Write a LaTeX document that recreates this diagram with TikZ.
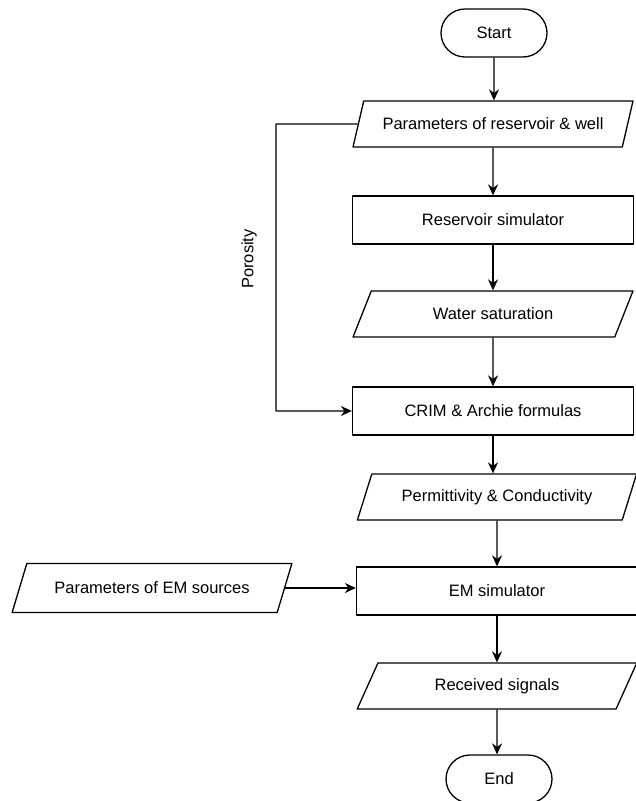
\documentclass[tikz,border=0pt]{standalone}
\usepackage{fontspec}
\setmainfont{Liberation Sans}
\usetikzlibrary{shapes.geometric,shapes.misc,arrows.meta}
\tikzset{
  term/.style={draw,rounded rectangle,minimum width=110pt,minimum height=48pt,inner sep=2pt},
  proc/.style={draw,rectangle,minimum width=281pt,minimum height=48pt,inner sep=2pt},
  io/.style={draw,trapezium,trapezium left angle=60,trapezium right angle=120,trapezium stretches,
    minimum width=280pt,minimum height=46pt,inner sep=2pt}
}
\begin{document}
\begin{tikzpicture}[x=1pt,y=-1pt,line join=round,line width=1.3pt,>={Stealth[length=11pt,width=10pt]},
  font=\fontsize{16.5}{19}\selectfont]
\useasboundingbox (0,0) rectangle (635,801);
\def\xa{493} \def\xb{497}
% main column
\node[term] (start) at (494,33) {Start};
\node[io] (par) at (\xa,124) {Parameters of reservoir \& well};
\node[proc] (res) at (\xa,220) {Reservoir simulator};
\node[io] (wat) at (\xa,314) {Water saturation};
\node[proc] (crim) at (\xa,411) {CRIM \& Archie formulas};
\node[io] (perm) at (\xb,497) {Permittivity \& Conductivity};
\node[proc] (em) at (\xb,591) {EM simulator};
\node[io] (rec) at (\xb,686) {Received signals};
\node[term] (stop) at (499,779) {End};
\node[io,trapezium left angle=54,trapezium right angle=126,minimum height=49pt] (src) at (152,588) {Parameters of EM sources};
\foreach \a/\b in {start/par,par/res,res/wat,wat/crim,crim/perm,perm/em,em/rec,rec/stop}
\draw[->] (\a) -- (\a.south |- \b.north);
% porosity branch
\coordinate (bend) at (276,124);
\draw[->] (par.west) -- (bend) |- (crim.west);
\node[rotate=90] (poro) at (249,259) {Porosity};
\draw[->] (src.east) -- (src.east -| em.west);
\end{tikzpicture}
\end{document}
